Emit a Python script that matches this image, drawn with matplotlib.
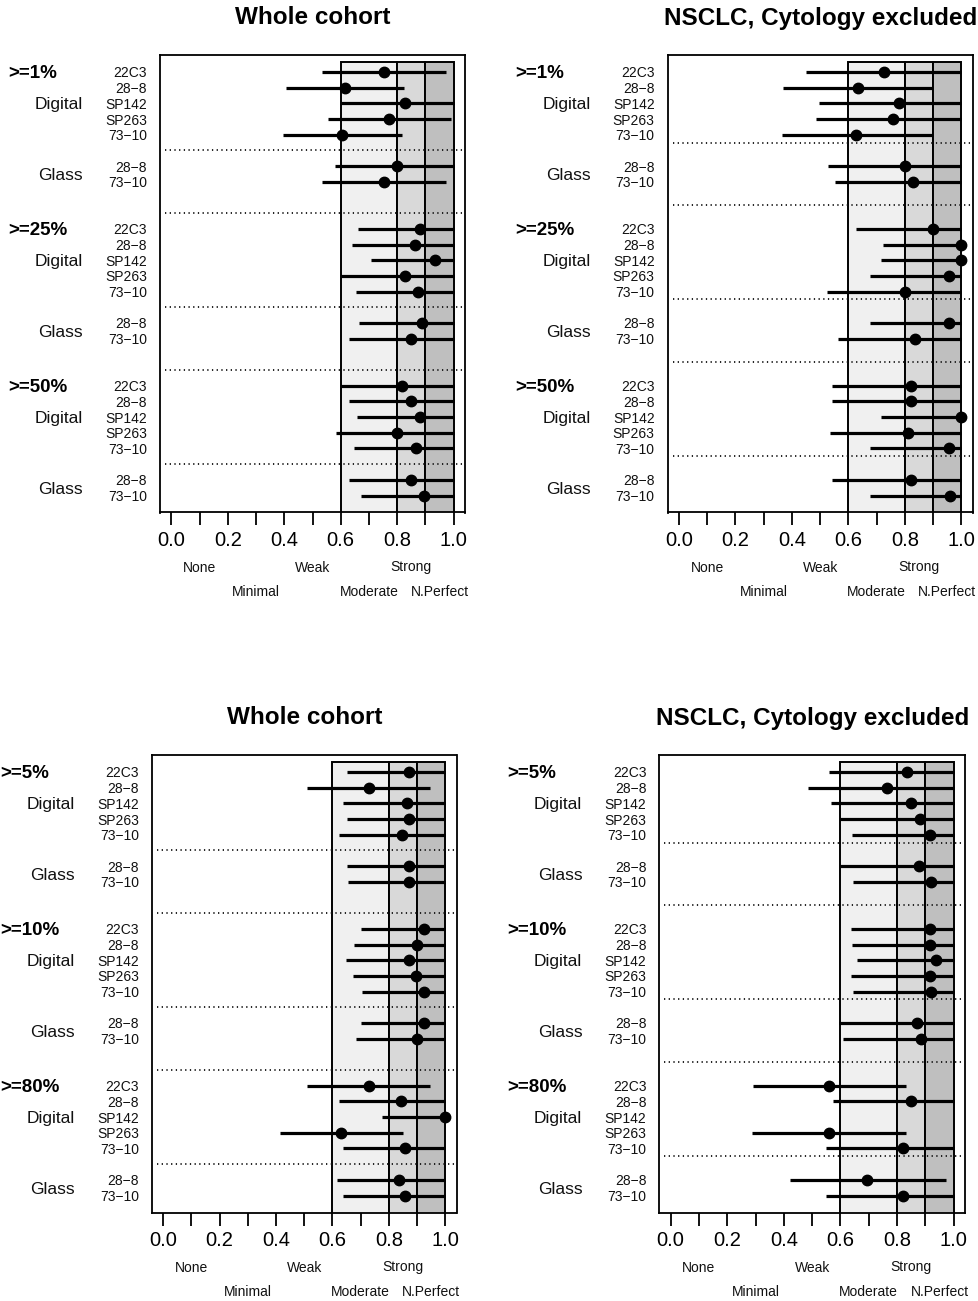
import numpy as np
import matplotlib
matplotlib.use("Agg")
import matplotlib.pyplot as plt
import matplotlib.transforms as mtransforms
from matplotlib.patches import Rectangle

plt.rcParams['font.family'] = ['Liberation Sans', 'DejaVu Sans']

# ---------------- data ----------------
digital_labels = ["22C3", "28\u22128", "SP142", "SP263", "73\u221210"]
glass_labels = ["28\u22128", "73\u221210"]
thresholds_top = [">=1%", ">=25%", ">=50%"]
thresholds_bottom = [">=5%", ">=10%", ">=80%"]
titles = ["Whole cohort", "NSCLC, Cytology excluded"]

agreement_names = ["None", "Minimal", "Weak", "Moderate", "Strong", "N.Perfect"]
agreement_pos = [0.1, 0.3, 0.5, 0.7, 0.85, 0.95]
agreement_row = [0, 1, 0, 1, 0, 1]
band_edges = [0.6, 0.8, 0.9, 1.0]
band_colors = ["#f0f0f0", "#d9d9d9", "#bfbfbf"]

# order per threshold: 5 digital (22C3, 28-8, SP142, SP263, 73-10) then 2 glass (28-8, 73-10)
tl_est = [0.753, 0.616, 0.826, 0.772, 0.604, 0.800, 0.753,
          0.882, 0.862, 0.933, 0.826, 0.874, 0.886, 0.850,
          0.818, 0.850, 0.882, 0.800, 0.866, 0.850, 0.894]
tl_lo = [0.532, 0.407, 0.600, 0.555, 0.394, 0.580, 0.532,
         0.661, 0.641, 0.708, 0.600, 0.655, 0.665, 0.629,
         0.600, 0.629, 0.658, 0.582, 0.647, 0.629, 0.673]
tl_hi = [0.972, 0.824, 1.0, 0.992, 0.818, 1.0, 0.972,
         1.0, 1.0, 1.0, 1.0, 1.0, 1.0, 1.0,
         1.0, 1.0, 1.0, 1.0, 1.0, 1.0, 1.0]

tr_est = [0.726, 0.634, 0.778, 0.758, 0.628, 0.802, 0.829,
          0.900, 1.0, 1.0, 0.956, 0.800, 0.955, 0.837,
          0.820, 0.820, 1.0, 0.811, 0.956, 0.820, 0.958]
tr_lo = [0.449, 0.369, 0.496, 0.484, 0.363, 0.528, 0.552,
         0.626, 0.723, 0.717, 0.676, 0.524, 0.676, 0.563,
         0.542, 0.542, 0.717, 0.536, 0.678, 0.542, 0.678]
tr_hi = [1.0, 0.897, 1.0, 1.0, 0.897, 1.0, 1.0,
         1.0, 1.0, 1.0, 1.0, 1.0, 1.0, 1.0,
         1.0, 1.0, 1.0, 1.0, 1.0, 1.0, 1.0]

bl_est = [0.873, 0.728, 0.866, 0.873, 0.846, 0.873, 0.873,
          0.923, 0.900, 0.873, 0.897, 0.925, 0.923, 0.900,
          0.728, 0.844, 1.0, 0.630, 0.858, 0.836, 0.858]
bl_lo = [0.653, 0.509, 0.639, 0.651, 0.624, 0.651, 0.655,
         0.701, 0.677, 0.648, 0.672, 0.704, 0.701, 0.682,
         0.509, 0.622, 0.775, 0.414, 0.637, 0.616, 0.639]
bl_hi = [1.0, 0.947, 1.0, 1.0, 1.0, 1.0, 1.0,
         1.0, 1.0, 1.0, 1.0, 1.0, 1.0, 1.0,
         0.947, 1.0, 1.0, 0.852, 1.0, 1.0, 1.0]

br_est = [0.836, 0.763, 0.848, 0.880, 0.918, 0.877, 0.919,
          0.916, 0.916, 0.937, 0.918, 0.919, 0.871, 0.883,
          0.560, 0.848, np.nan, 0.560, 0.822, 0.695, 0.822]
br_lo = [0.561, 0.487, 0.567, 0.600, 0.642, 0.600, 0.643,
         0.638, 0.640, 0.657, 0.638, 0.643, 0.596, 0.608,
         0.290, 0.573, np.nan, 0.288, 0.548, 0.421, 0.548]
br_hi = [1.0, 1.0, 1.0, 1.0, 1.0, 1.0, 1.0,
         1.0, 1.0, 1.0, 1.0, 1.0, 1.0, 1.0,
         0.830, 1.0, np.nan, 0.833, 1.0, 0.972, 1.0]

# ---------------- layout ----------------
W, H = 979, 1301
fig = plt.figure(figsize=(W / 100, H / 100), dpi=100)

panels = [
    (160.0, 465.0, 55.0, 512.5, tl_est, tl_lo, tl_hi, thresholds_top, titles[0], False),
    (667.7, 972.7, 55.0, 512.5, tr_est, tr_lo, tr_hi, thresholds_top, titles[1], True),
    (152.0, 456.5, 755.0, 1212.5, bl_est, bl_lo, bl_hi, thresholds_bottom, titles[0], False),
    (659.3, 965.0, 755.0, 1212.5, br_est, br_lo, br_hi, thresholds_bottom, titles[1], True),
]

for (lpx, rpx, tpx, bpx, est, lo, hi, thr, title, half) in panels:
    ax = fig.add_axes([lpx / W, 1 - bpx / H, (rpx - lpx) / W, (bpx - tpx) / H])
    ax.set_xlim(-0.04, 1.04)
    ax.set_ylim(29.08, -0.08)

    # agreement bands
    for i in range(3):
        ax.add_patch(Rectangle((band_edges[i], 0.35), band_edges[i + 1] - band_edges[i], 30,
                               facecolor=band_colors[i], edgecolor="black", lw=1.4, zorder=1))

    rows = []
    for k in range(3):
        base = 10 * k
        rows += [base + 1, base + 2, base + 3, base + 4, base + 5, base + 7, base + 8]
    rows = np.array(rows, dtype=float)
    est_a = np.array(est, dtype=float)
    lo_a = np.array(lo, dtype=float)
    hi_a = np.array(hi, dtype=float)

    ax.hlines(rows, lo_a, hi_a, color="black", lw=2.3, zorder=3)
    ax.plot(est_a, rows, "o", color="black", ms=7.5, zorder=4)

    seps = [5.5, 9.5, 15.5, 19.5, 25.5] if half else [6, 10, 16, 20, 26]
    for s in seps:
        ax.plot([-0.022, 1.035], [s, s], color="#111111", lw=1.3,
                linestyle=(0, (0.7, 1.9)), zorder=2)

    ax.set_yticks([])
    ticks = np.round(np.arange(0, 1.01, 0.1), 1)
    ax.set_xticks(ticks)
    ax.set_xticklabels([f"{v:.1f}" if i % 2 == 0 else "" for i, v in enumerate(ticks)],
                       fontsize=14.5)
    ax.tick_params(axis="x", length=9, width=1.3, pad=4.5, color="black")
    for sp in ax.spines.values():
        sp.set_linewidth(1.3)
        sp.set_color("black")

    fig.text((lpx + rpx) / 2 / W, 1 - (tpx - 37) / H, title, fontsize=17.5,
             fontweight="bold", ha="center", va="center")

    tr_x = mtransforms.blended_transform_factory(ax.transData, fig.transFigure)
    for name, pos, r in zip(agreement_names, agreement_pos, agreement_row):
        ypx = bpx + 55 + 24 * r
        ax.text(pos, 1 - ypx / H, name, transform=tr_x, fontsize=10,
                ha="center", va="center", color="#111111")

    tr_y = mtransforms.blended_transform_factory(fig.transFigure, ax.transData)
    for k in range(3):
        base = 10 * k
        fig.text((lpx - 152) / W, base + 1, thr[k], transform=tr_y, fontsize=13.5,
                 fontweight="bold", ha="left", va="center_baseline")
        fig.text((lpx - 77) / W, base + 3, "Digital", transform=tr_y, fontsize=12.5,
                 ha="right", va="center_baseline", color="#111111")
        fig.text((lpx - 77) / W, base + 7.5, "Glass", transform=tr_y, fontsize=12.5,
                 ha="right", va="center_baseline", color="#111111")
        for i, lab in enumerate(digital_labels):
            fig.text((lpx - 13) / W, base + 1 + i, lab, transform=tr_y, fontsize=10,
                     ha="right", va="center_baseline", color="#111111")
        for i, lab in enumerate(glass_labels):
            fig.text((lpx - 13) / W, base + 7 + i, lab, transform=tr_y, fontsize=10,
                     ha="right", va="center_baseline", color="#111111")

fig.savefig("out.png", dpi=100, facecolor="white")
